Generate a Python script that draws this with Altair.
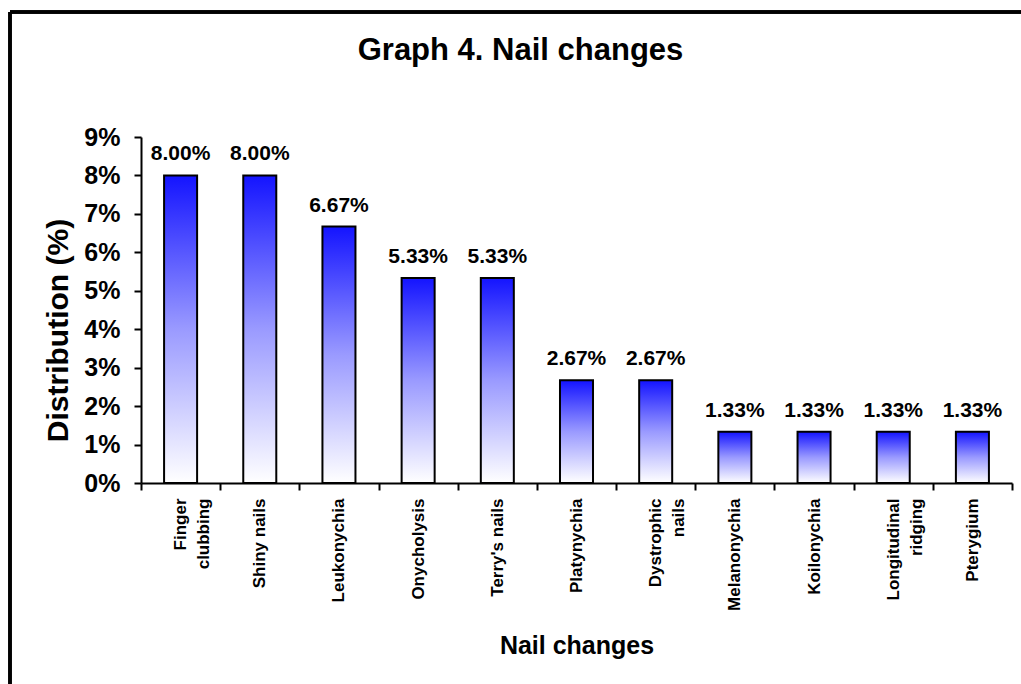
import altair as alt
import pandas as pd

categories = ["Finger|clubbing", "Shiny nails", "Leukonychia", "Onycholysis", "Terry's nails",
              "Platynychia", "Dystrophic|nails", "Melanonychia", "Koilonychia",
              "Longitudinal|ridging", "Pterygium"]
values = [8.00, 8.00, 6.67, 5.33, 5.33, 2.67, 2.67, 1.33, 1.33, 1.33, 1.33]
y_ticks = [0, 1, 2, 3, 4, 5, 6, 7, 8, 9]

df = pd.DataFrame({"cat": categories, "value": values})

FONT = "Liberation Sans"
W, H = 871, 346
PL, PT = 141, 137

x_enc = alt.X("cat:N", sort=categories,
              scale=alt.Scale(paddingInner=0, paddingOuter=0),
              axis=alt.Axis(title="Nail changes", labelAngle=-90, tickBand="extent",
                            labelExpr="split(datum.label, '|')", labelLineHeight=23,
                            labelFontSize=17, labelFont=FONT, labelFontWeight="bold",
                            labelColor="black", labelPadding=8, tickSize=7, tickWidth=2,
                            tickColor="black", domainColor="black", domainWidth=2,
                            titleFont=FONT, titleFontSize=25, titleFontWeight="bold",
                            titleColor="black", titleY=170, titleBaseline="alphabetic"))
y_enc = alt.Y("value:Q", scale=alt.Scale(domain=[0, 9], nice=False),
              axis=alt.Axis(title="Distribution (%)", values=y_ticks, labelOverlap=False,
                            tickCount=10,
                            labelExpr="datum.value + '%'", labelFontSize=25, labelFont=FONT,
                            labelFontWeight="bold", labelColor="black", labelPadding=14,
                            tickSize=7, tickWidth=2, tickColor="black", domainColor="black",
                            domainWidth=2, grid=False, titleFont=FONT, titleFontSize=30,
                            titleFontWeight="bold", titleColor="black", titleX=-83,
                            titleY=193, titleBaseline="middle"))

gradient = alt.Gradient(gradient="linear", x1=0, y1=0, x2=0, y2=1,
                        stops=[alt.GradientStop(color="#1414ff", offset=0),
                               alt.GradientStop(color="#9a9aff", offset=0.5),
                               alt.GradientStop(color="#ffffff", offset=1)])

bars = alt.Chart(df).mark_bar(width=alt.RelativeBandSize(0.417), fill=gradient,
                              stroke="black", strokeWidth=2).encode(x=x_enc, y=y_enc)

labels = alt.Chart(df).transform_calculate(
    lab="format(datum.value, '.2f') + '%'"
).mark_text(font=FONT, fontSize=21, fontWeight="bold", color="black",
            baseline="alphabetic", dy=-15).encode(x=x_enc, y=y_enc, text="lab:N")

frame_left = alt.Chart(df).mark_rule(color="black", strokeWidth=2.5).encode(
    x=alt.value(10 - PL), y=alt.value(12 - PT), y2=alt.value(700 - PT))
frame_top = alt.Chart(df).mark_rule(color="black", strokeWidth=2.5).encode(
    x=alt.value(10 - PL), x2=alt.value(1030 - PL), y=alt.value(12 - PT))

chart = alt.layer(bars, labels, frame_left, frame_top).properties(
    width=W, height=H,
    title=alt.Title("Graph 4. Nail changes", fontSize=31, fontWeight="bold", font=FONT,
                    color="black", anchor="middle", dx=-56, baseline="alphabetic", offset=-80),
    autosize=alt.AutoSizeParams(type="none"),
    padding={"left": PL, "top": PT, "right": 1021 - PL - W, "bottom": 684 - PT - H},
    background="white",
).configure_view(stroke=None)

chart.save("out.html", embed_options={"renderer": "svg", "actions": False})
